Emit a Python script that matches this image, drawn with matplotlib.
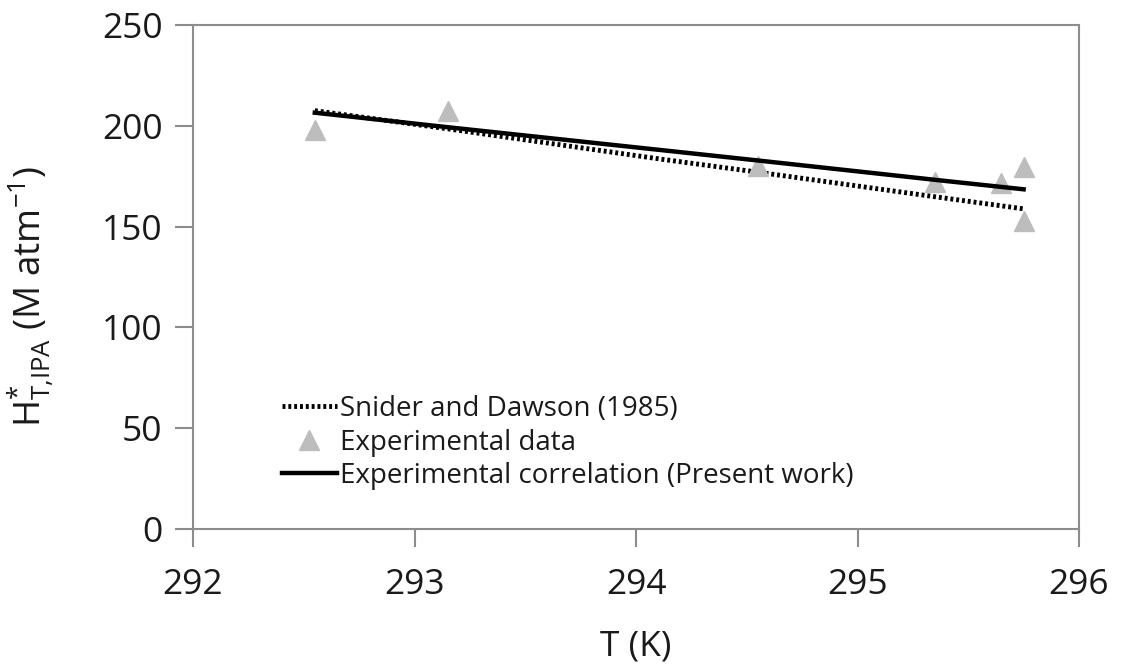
import matplotlib
matplotlib.use("Agg")
import matplotlib.pyplot as plt
import numpy as np

# Data
T_exp = [292.55, 293.15, 294.55, 295.35, 295.65, 295.75, 295.75]
H_exp = [198.0, 207.5, 180.0, 172.0, 171.5, 179.5, 153.0]

T_snider = [292.55, 293.15, 294.11, 294.55, 295.35, 295.75]
H_snider = [207.5, 198.5, 183.5, 177.0, 164.8, 158.8]

T_corr = [292.55, 293.15, 294.11, 294.55, 295.35, 295.75]
H_corr = [206.5, 199.3, 188.0, 182.8, 173.2, 168.5]

x_ticks = [292, 293, 294, 295, 296]
y_ticks = [0, 50, 100, 150, 200, 250]

font = "Open Sans"
plt.rcParams['font.family'] = [font, 'DejaVu Sans']
plt.rcParams['mathtext.fontset'] = 'custom'
plt.rcParams['mathtext.rm'] = font
plt.rcParams['mathtext.it'] = font

fig = plt.figure(figsize=(11.21, 6.71), dpi=100)
ax = fig.add_axes([193/1121, 1-529/671, (1079-193)/1121, (529-25)/671])

ax.plot(T_snider, H_snider, linestyle=(0, (0.6, 0.6)), color='black', lw=3.5,
        label='Snider and Dawson (1985)')
ax.plot(T_exp, H_exp, linestyle='none', marker='^', ms=14, color='#bdbdbd',
        mec='#bdbdbd', label='Experimental data')
ax.plot(T_corr, H_corr, color='black', lw=3.2, label='Experimental correlation (Present work)')

ax.set_xlim(292, 296)
ax.set_ylim(0, 250)
ax.set_xticks(x_ticks)
ax.set_yticks(y_ticks)

gray = '#8c8c8c'
for s in ax.spines.values():
    s.set_color(gray)
    s.set_linewidth(1.5)
ax.tick_params(axis='both', direction='out', length=13, width=1.5, color=gray,
               labelsize=25.5, labelcolor='#1a1a1a', pad=9)
ax.tick_params(axis='x', pad=15)

ax.set_xlabel('T (K)', fontsize=25.5, color='#1a1a1a', labelpad=20)
ax.set_ylabel(r'H$^{*}_{\mathregular{T{,}IPA}}$ (M atm$^{\mathregular{-1}}$)', fontsize=26.5,
              color='#1a1a1a')
ax.yaxis.set_label_coords(-0.156, 0.462)

leg = ax.legend(loc='lower left', bbox_to_anchor=(0.10, 0.077), frameon=False,
                fontsize=20, handlelength=2.0, handletextpad=0.1, labelspacing=0.2,
                borderaxespad=0, borderpad=0)
for t in leg.get_texts():
    t.set_color('#1a1a1a')

fig.savefig('out.png', dpi=100)
